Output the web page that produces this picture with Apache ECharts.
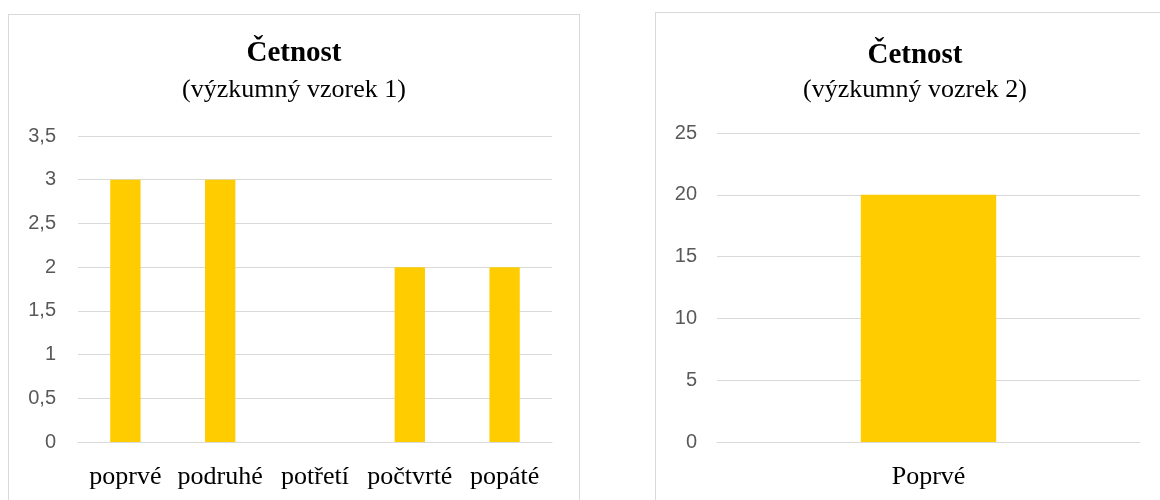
<!DOCTYPE html>
<html>
<head>
<meta charset="utf-8">
<script src="https://cdn.jsdelivr.net/npm/echarts@6/dist/echarts.min.js"></script>
<style>
body { margin: 0; background: #fff; width: 1160px; height: 500px; overflow: hidden; position: relative; }
.echart { position: absolute; border: 1px solid #d9d9d9; box-sizing: border-box; background: #fff; }
#echart1 { left: 8px; top: 14px; width: 572px; height: 500px; }
#echart2 { left: 655px; top: 12px; width: 520px; height: 500px; }
</style>
</head>
<body>
<div class="echart" id="echart1"></div>
<div class="echart" id="echart2"></div>
<script>
// vzorek 1
var names1 = ['poprvé', 'podruhé', 'potřetí', 'počtvrté', 'popáté'];
var values1 = [3, 3, 0, 2, 2];
// vzorek 2
var names2 = ['Poprvé'];
var values2 = [20];

function makeOption(subtitle, names, values, yMax, yInterval, grid, labelMargin, titleTop, subTop) {
    return {
        animation: false,
        title: [
            {
                text: 'Četnost',
                left: 'center',
                top: titleTop,
                textStyle: { fontFamily: 'Liberation Serif', fontSize: 29, fontWeight: 'bold', color: '#000' }
            },
            {
                text: subtitle,
                left: 'center',
                top: subTop,
                textStyle: { fontFamily: 'Liberation Serif', fontSize: 26, fontWeight: 'normal', color: '#000' }
            }
        ],
        grid: grid,
        xAxis: {
            type: 'category',
            data: names,
            axisTick: { show: false },
            axisLine: { lineStyle: { color: '#d9d9d9' } },
            axisLabel: {
                interval: 0,
                margin: 22,
                fontFamily: 'Liberation Serif',
                fontSize: 26,
                color: '#000'
            }
        },
        yAxis: {
            type: 'value',
            min: 0,
            max: yMax,
            interval: yInterval,
            axisLine: { show: false },
            axisTick: { show: false },
            splitLine: { lineStyle: { color: '#d9d9d9' } },
            axisLabel: {
                margin: labelMargin,
                fontFamily: 'Liberation Sans',
                fontSize: 20,
                color: '#595959',
                formatter: function (v) { return String(v).replace('.', ','); }
            }
        },
        series: [{
            type: 'bar',
            data: values,
            barWidth: '32%',
            itemStyle: { color: '#ffcc00' }
        }]
    };
}

var chart1 = echarts.init(document.getElementById('echart1'));
chart1.setOption(makeOption('(výzkumný vzorek 1)', names1, values1, 3.5, 0.5,
    { left: 69, right: 27, top: 121, height: 306 }, 22, 19, 57));

var chart2 = echarts.init(document.getElementById('echart2'));
chart2.setOption(makeOption('(výzkumný vozrek 2)', names2, values2, 25, 5,
    { left: 61, right: 34, top: 120, height: 309 }, 20, 23, 59));
</script>
</body>
</html>
